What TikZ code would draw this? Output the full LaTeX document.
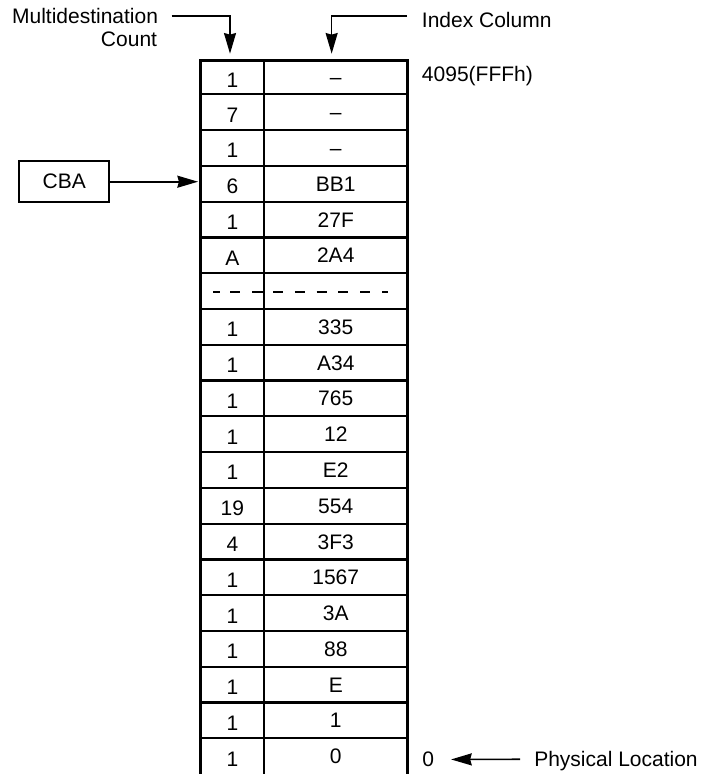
\documentclass[tikz,border=0pt]{standalone}
\usepackage{fontspec}
\setmainfont{Liberation Sans}
\usetikzlibrary{arrows.meta,calc}
\begin{document}
\begin{tikzpicture}[x=0.75pt,y=-0.75pt,
  txt/.style={inner sep=0pt,font=\fontsize{15.75}{19}\selectfont},
  cntcell/.style={txt,minimum width=47.4pt,text height=15pt,text depth=0pt},
  idxcell/.style={txt,minimum width=107.5pt,text height=11.3pt,text depth=0pt},
  frame/.style={line width=2.25pt,line join=miter},
  rule/.style={line width=1.7pt},
  arr/.style={line width=1.2pt,-{Stealth[length=15.5pt,width=9pt,inset=1.2pt]}},
  gap/.style={line width=1.4pt}]
\useasboundingbox (0,0) rectangle (701,774);

% cells of the table: count column and index column
\foreach \k/\a/\b in {1/1/\textendash,2/7/\textendash,3/1/\textendash,4/6/BB1,5/1/27F,6/A/2A4,8/1/335,9/1/A34,10/1/765,11/1/12,12/1/E2,13/19/554,14/4/3F3,15/1/1567,16/1/3A,17/1/88,18/1/E,19/1/1,20/1/0}{
  \pgfmathsetmacro{\ytop}{ifthenelse(\k==1,60.5,94.3+(\k-2)*35.78)}
  \pgfmathsetmacro{\ybot}{94.3+(\k-1)*35.78}
  \pgfmathsetmacro{\yc}{(\ytop+\ybot)/2}
  \pgfmathsetmacro{\hh}{(\ybot-\ytop)*0.75}
  \node[cntcell,minimum height=\hh pt] (cnt\k) at (232.4,\yc) {\a};
  \node[idxcell,minimum height=\hh pt] (idx\k) at (335.75,\yc) {\b};
}

% row separators
\foreach \k in {1,...,19}{
  \pgfmathsetmacro{\yy}{94.3+(\k-1)*35.78}
  \draw[rule] (200.8,\yy) -- (407.5,\yy);
}
% column divider and outer frame (open at the bottom)
\draw[rule,line width=1.9pt] (264,60.5) -- (264,774);
\draw[frame] (200.8,774) -- (200.8,60.5) -- (407.5,60.5) -- (407.5,774);

% elided rows
\draw[gap,dash pattern=on 5.25pt off 7.5pt on 7.5pt off 9pt on 8.25pt off 10pt] (213,292) -- (263,292);
\draw[gap,dash pattern=on 7.5pt off 8.85pt] (273,292) -- (388,292);

% labels
\node[txt,anchor=base east] (md1) at (158.3,23.3) {Multidestination};
\node[txt,anchor=base east] (md2) at (157.3,46.7) {Count};
\node[txt,anchor=base west] (ic) at (421.7,27.3) {Index Column};
\node[txt,anchor=base west] (topaddr) at (421.7,81.7) {4095(FFFh)};
\node[txt,anchor=base west] (pl) at (534,766.7) {Physical Location};
\node[txt,anchor=base] (zero) at (428.3,766.7) {0};
\node[txt,draw,line width=1.7pt,minimum width=67.3pt,minimum height=30.75pt] (cba) at (64.2,181.7) {CBA};

% connectors
\draw[arr,shorten <=10pt,shorten >=4.9pt] (md1.east) -| ($(cnt1.north)+(-2.4,0)$);
\draw[arr,shorten >=4.9pt] ($(ic.west)+(-14.7,-4)$) -| ($(idx1.north)+(-4.1,0)$);
\draw[arr,shorten >=1.9pt] (cba.east) -- (cba.east -| cnt4.west);
\draw[arr,shorten >=12.5pt] ($(pl.west)+(-14,-2)$) -- (zero.east);
\end{tikzpicture}
\end{document}
